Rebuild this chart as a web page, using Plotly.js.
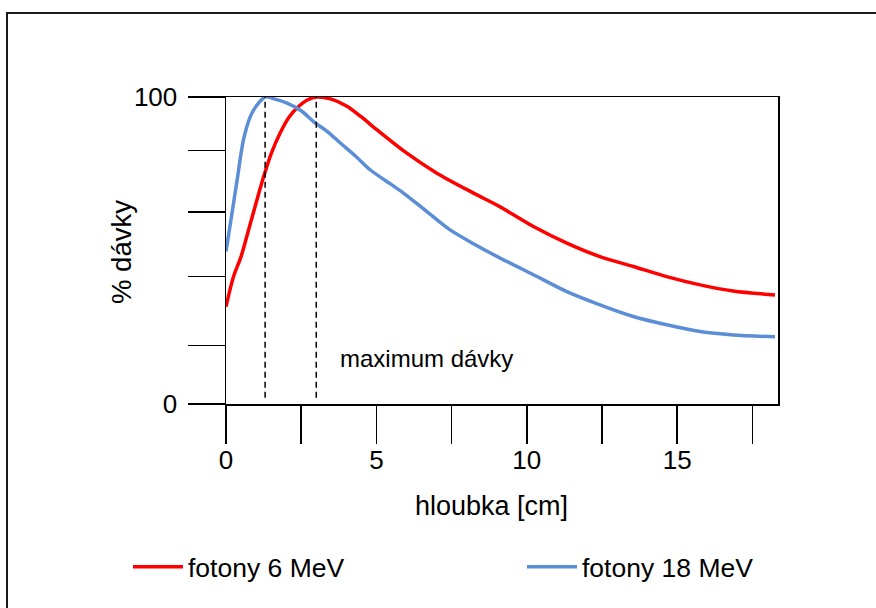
<!DOCTYPE html>
<html>
<head>
<meta charset="utf-8">
<script src="https://cdn.plot.ly/plotly-3.0.1.min.js"></script>
<style>html,body{margin:0;padding:0;background:#fff;}#chart{width:876px;height:608px;}</style>
</head>
<body>
<div id="chart"></div>
<script>
// Depth (cm) and relative dose (%)
const depth6 = [0, 0.25, 0.5, 0.75, 1.0, 1.25, 1.5, 1.8, 2.1, 2.36, 2.7, 3.0, 3.5, 4.02, 4.5, 5.02, 6.01, 7.01, 8.23, 9.1, 10.22, 11.33, 12.43, 13.54, 14.65, 15.76, 16.86, 18.25];
const dose6 = [31.7, 41.5, 48, 56.7, 65.5, 74, 81.5, 88.3, 93.5, 96.4, 99, 100, 99.3, 97, 93.5, 89.3, 81.7, 75.2, 68.7, 64.3, 57.8, 52.4, 48, 44.8, 41.5, 38.8, 36.8, 35.5];
const depth18 = [0, 0.2, 0.37, 0.58, 0.81, 1.0, 1.3, 1.6, 2.03, 2.5, 2.91, 3.4, 3.8, 4.3, 4.79, 5.3, 5.9, 6.7, 7.45, 8.3, 9.12, 10.22, 11.33, 12.43, 13.54, 14.65, 15.76, 16.86, 18.25];
const dose18 = [49.7, 62.2, 73, 86, 93.7, 97, 100, 99.4, 98, 95.5, 92, 88.5, 85, 80.8, 76.3, 72.8, 68.7, 62.5, 56.7, 51.8, 47.5, 42.1, 36.6, 32.3, 28.5, 25.8, 23.6, 22.5, 21.9];
const maxDepths = [1.3, 3.0];           // depth of dose maximum (18 MeV, 6 MeV)
const seriesNames = ["fotony 6 MeV", "fotony 18 MeV"];
const xTickVals = [0, 2.5, 5, 7.5, 10, 12.5, 15, 17.5];
const xTickText = ["0", "", "5", "", "10", "", "15", ""];
const yTickVals = [0, 19, 41.5, 62.5, 82.5, 100];
const yTickText = ["0", "", "", "", "", "100"];
const xTitle = "hloubka [cm]";
const yTitle = "% dávky";
const noteText = "maximum dávky";

const FONT = "Liberation Sans, Arial, sans-serif";

const traces = [
  {x: depth6, y: dose6, name: seriesNames[0], mode: "lines", type: "scatter", legend: "legend",
   line: {color: "#FF0000", width: 3.5, shape: "spline", smoothing: 0.8}},
  {x: depth18, y: dose18, name: seriesNames[1], mode: "lines", type: "scatter", legend: "legend2",
   line: {color: "#5B8ED6", width: 3.5, shape: "spline", smoothing: 0.8}}
];
maxDepths.forEach(d => traces.push({
  x: [d, d], y: [2, 100], mode: "lines", type: "scatter", showlegend: false,
  hoverinfo: "skip", line: {color: "#000", width: 1.5, dash: "6px,4px"}
}));

const legendBase = {orientation: "h", xanchor: "left", y: (404 - 567) / 307, yanchor: "middle",
  font: {family: FONT, size: 26.5, color: "#000"}, itemwidth: 50, bgcolor: "rgba(0,0,0,0)"};

const layout = {
  width: 876, height: 608,
  margin: {l: 226, r: 98, t: 97, b: 204},
  paper_bgcolor: "#fff", plot_bgcolor: "#fff",
  font: {family: FONT, size: 26, color: "#000"},
  showlegend: true,
  legend: Object.assign({}, legendBase, {x: (128 - 226) / 552}),
  legend2: Object.assign({}, legendBase, {x: (522 - 226) / 552}),
  xaxis: {range: [0, 18.35], tickvals: xTickVals, ticktext: xTickText, ticks: "outside",
          ticklen: 38, tickwidth: 1.5, tickcolor: "#000", showline: true, linecolor: "#000",
          linewidth: 1.5, mirror: true, showgrid: false, zeroline: false, ticklabelstandoff: -6,
          tickfont: {family: FONT, size: 26, color: "#000"}, fixedrange: true},
  yaxis: {range: [0, 100], tickvals: yTickVals, ticktext: yTickText, ticks: "outside",
          ticklen: 37, tickwidth: 1.5, tickcolor: "#000", showline: true, linecolor: "#000",
          linewidth: 1.5, mirror: true, showgrid: false, zeroline: false, ticklabelstandoff: 5,
          tickfont: {family: FONT, size: 26, color: "#000"}, fixedrange: true},
  annotations: [
    {text: noteText, xref: "x", yref: "y", x: 3.72, y: 14.7, xanchor: "left", yanchor: "middle",
     showarrow: false, font: {family: FONT, size: 24, color: "#000"}},
    {text: xTitle, xref: "paper", yref: "paper", x: (491 - 226) / 552, y: (404 - 506) / 307,
     xanchor: "center", yanchor: "middle", showarrow: false, font: {family: FONT, size: 27, color: "#000"}},
    {text: yTitle, xref: "paper", yref: "paper", x: (121 - 226) / 552, y: (404 - 252) / 307,
     xanchor: "center", yanchor: "middle", textangle: -90, showarrow: false,
     font: {family: FONT, size: 27.5, color: "#000"}}
  ],
  shapes: [
    {type: "rect", xref: "paper", yref: "paper", x0: (7 - 226) / 552, x1: (890 - 226) / 552,
     y0: (404 - 620) / 307, y1: (404 - 13) / 307, line: {color: "#1a1a1a", width: 2}, fillcolor: "rgba(0,0,0,0)"}
  ]
};

Plotly.newPlot("chart", traces, layout, {displayModeBar: false, staticPlot: true});
</script>
</body>
</html>
